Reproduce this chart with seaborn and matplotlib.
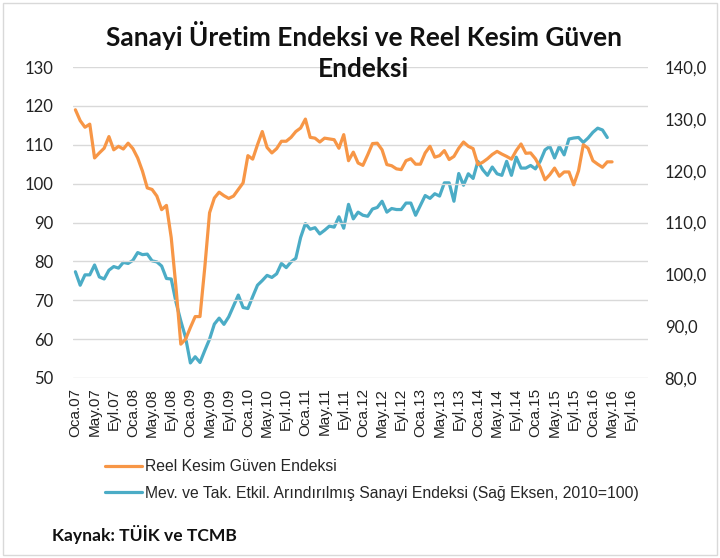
import numpy as np
import pandas as pd
import matplotlib
matplotlib.use("Agg")
import matplotlib.pyplot as plt
import seaborn as sns
from matplotlib.lines import Line2D
from matplotlib.patches import Rectangle

# ---------------- data ----------------
years = list(range(2007, 2017))
month_names = ["Oca", "Şub", "Mar", "Nis", "May", "Haz",
               "Tem", "Ağu", "Eyl", "Eki", "Kas", "Ara"]
categories = [f"{m}.{str(y)[2:]}" for y in years for m in month_names]  # Oca.07 .. Ara.16

# Reel Kesim Güven Endeksi (left axis), Oca.07 - May.16
reel_kesim = [
    119.0, 116.2, 114.5, 115.3, 106.6, 107.9, 109.1, 112.1, 108.7, 109.6,
    108.9, 110.4, 109.0, 106.6, 103.2, 98.9, 98.5, 96.8, 93.3, 94.4,
    86.1, 73.2, 58.7, 60.0, 63.0, 65.8, 65.8, 78.4, 92.5, 96.3,
    97.8, 96.9, 96.2, 96.8, 98.5, 100.2, 107.2, 106.3, 110.0, 113.4,
    109.3, 107.9, 109.0, 110.9, 110.9, 111.9, 113.4, 114.3, 116.6, 111.9,
    111.7, 110.7, 111.7, 111.5, 111.3, 109.1, 112.6, 105.9, 108.1, 105.3,
    104.7, 107.4, 110.3, 110.4, 108.7, 104.9, 104.6, 103.8, 103.6, 105.9,
    106.4, 105.0, 105.0, 107.9, 109.6, 106.8, 107.2, 108.5, 106.2, 107.0,
    109.1, 110.7, 109.6, 109.0, 104.9, 105.5, 106.4, 107.5, 108.3, 107.6,
    107.0, 106.3, 108.5, 110.2, 107.8, 107.9, 106.4, 104.2, 101.0, 102.3,
    104.0, 101.9, 103.0, 103.0, 99.7, 103.3, 110.0, 109.1, 105.9, 105.0,
    104.2, 105.6, 105.6,
]

# Mev. ve Tak. Etkil. Arındırılmış Sanayi Endeksi (right axis), Oca.07 - Nis.16
sanayi = [
    100.5, 97.9, 99.9, 99.9, 101.8, 99.5, 99.1, 100.8, 101.5, 101.2,
    102.3, 102.1, 102.7, 104.2, 103.8, 103.9, 102.6, 102.4, 101.6, 99.2,
    99.1, 94.6, 91.0, 87.8, 82.9, 84.1, 83.0, 85.3, 87.5, 90.4,
    91.55, 90.35, 91.8, 93.9, 96.0, 93.6, 93.4, 95.7, 97.9, 98.8,
    99.8, 99.4, 100.1, 102.1, 101.3, 102.4, 103.1, 107.1, 109.8, 108.7,
    109.0, 107.8, 108.5, 109.3, 109.1, 111.1, 108.9, 113.5, 110.7, 112.0,
    111.4, 111.2, 112.6, 112.9, 114.1, 112.0, 112.7, 112.5, 112.5, 113.75,
    113.75, 111.4, 113.3, 115.2, 114.65, 115.55, 115.1, 117.65, 117.65, 114.1,
    119.45, 117.2, 119.4, 118.5, 121.8, 120.2, 119.1, 120.7, 119.4, 119.1,
    121.8, 119.1, 122.6, 120.5, 120.5, 121.0, 120.35, 121.8, 124.0, 124.7,
    122.45, 124.7, 123.05, 126.1, 126.3, 126.4, 125.45, 126.3, 127.4, 128.2,
    127.85, 126.4,
]

left_ticks = [50, 60, 70, 80, 90, 100, 110, 120, 130]
right_ticks = [80, 90, 100, 110, 120, 130, 140]
right_tick_labels = ["80,0", "90,0", "100,0", "110,0", "120,0", "130,0", "140,0"]

label_reel = "Reel Kesim Güven Endeksi"
label_sanayi = "Mev. ve Tak. Etkil. Arındırılmış Sanayi Endeksi (Sağ Eksen, 2010=100)"
title = "Sanayi Üretim Endeksi ve Reel Kesim Güven\nEndeksi"
source = "Kaynak: TÜİK ve TCMB"

df_reel = pd.DataFrame({"x": np.arange(len(reel_kesim)), "v": reel_kesim})
df_san = pd.DataFrame({"x": np.arange(len(sanayi)), "v": sanayi})

# ---------------- plot ----------------
sns.set_theme(style="white")
plt.rcParams["font.family"] = ["Liberation Sans", "DejaVu Sans"]

ORANGE = "#F79646"
TEAL = "#4BACC6"

fig = plt.figure(figsize=(7.2, 5.58), dpi=100)
ax = fig.add_axes([73 / 720, 1 - 378 / 558, (648 - 73) / 720, (378 - 67) / 558])
ax2 = ax.twinx()

sns.lineplot(data=df_reel, x="x", y="v", ax=ax, color=ORANGE, linewidth=2.3,
             legend=False)
sns.lineplot(data=df_san, x="x", y="v", ax=ax2, color=TEAL, linewidth=2.3,
             legend=False)

ax.set_xlim(-0.5, len(categories) - 0.5)
ax.set_ylim(50, 130)
ax2.set_ylim(80, 140)
ax.set_yticks(left_ticks)
ax.set_yticklabels([str(t) for t in left_ticks], fontfamily="Lato", fontsize=12)
ax2.set_yticks(right_ticks)
ax2.set_yticklabels(right_tick_labels, fontfamily="Lato", fontsize=12)

xt = list(range(0, len(categories), 4))
ax.set_xticks(xt)
ax.set_xticklabels([categories[i] for i in xt], rotation=90, fontsize=11,
                   color="#222222")
ax.set_xlabel("")
ax.set_ylabel("")
ax2.set_ylabel("")

ax.grid(axis="y", color="#d9d9d9", linewidth=1.0)
ax.grid(axis="x", visible=False)
ax.set_axisbelow(True)
for a in (ax, ax2):
    for s in a.spines.values():
        s.set_visible(False)
ax.tick_params(axis="y", length=0, pad=14, colors="#222222")
ax2.tick_params(axis="y", length=0, pad=12, colors="#222222")
ax.tick_params(axis="x", length=0, pad=7, colors="#222222")
ax.set_zorder(ax2.get_zorder() + 1)
ax.patch.set_visible(False)

fig.text(0.505, 1 - 51 / 558, title, ha="center", va="center",
         fontfamily="Lato", fontweight="bold", fontsize=18.9,
         linespacing=1.32, color="#111111")

handles = [Line2D([], [], color=ORANGE, linewidth=2.3),
           Line2D([], [], color=TEAL, linewidth=2.3)]
fig.legend(handles, [label_reel, label_sanayi], loc="upper left",
           bbox_to_anchor=(105 / 720, 1 - 459 / 558), frameon=False,
           fontsize=11.3, handlelength=2.35, handletextpad=0.2,
           labelspacing=0.75, borderaxespad=0, borderpad=0)

fig.text(52 / 720, 1 - 535 / 558, source, ha="left", va="center",
         fontfamily="Lato", fontweight="bold", fontsize=12.6, color="#111111")

fig.patches.append(Rectangle((3 / 720, 3 / 558), 714 / 720, 552 / 558,
                             transform=fig.transFigure, fill=False,
                             edgecolor="#d9d9d9", linewidth=1.0))

fig.savefig("out.png", dpi=100)
